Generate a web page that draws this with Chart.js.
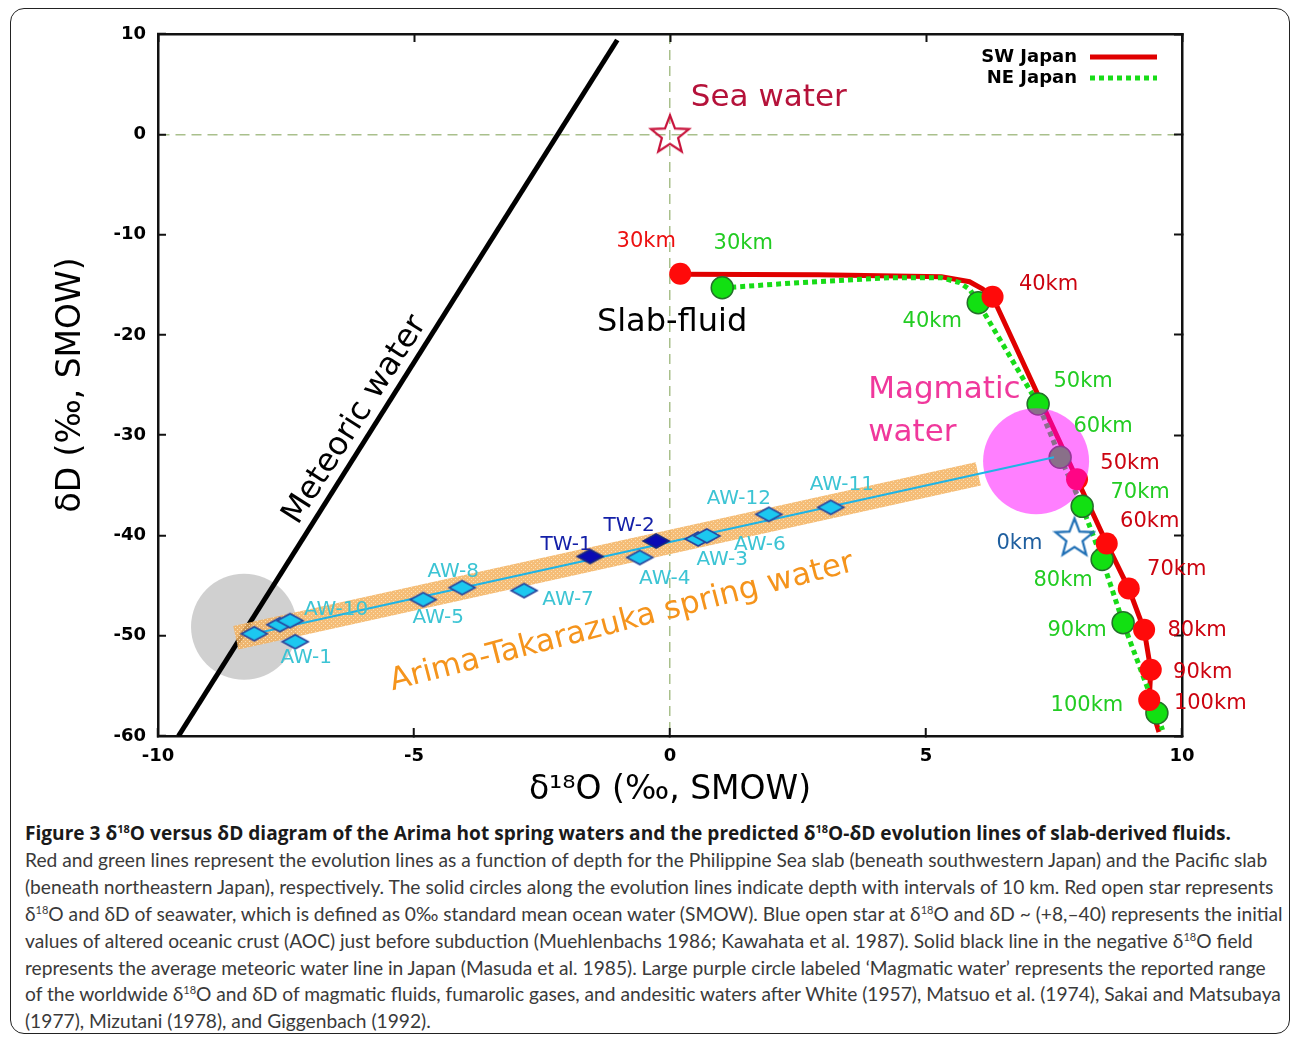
<!DOCTYPE html>
<html>
<head>
<meta charset="utf-8">
<script src="https://cdn.jsdelivr.net/npm/chart.js@4.4.1/dist/chart.umd.min.js"></script>
<style>
  body { margin: 0; background: #fff; width: 1290px; height: 1038px; overflow: hidden; position: relative; }
  #frame { position: absolute; left: 10px; top: 8px; width: 1280px; height: 1026px; border: 1.5px solid #222; border-radius: 14px; box-sizing: border-box; }
  #chart { position: absolute; left: 0; top: 0; }
  #cap { position: absolute; left: 25px; top: 820px; color: #3a3a3a; font-family: Lato, sans-serif; font-size: 19.2px; line-height: 26.9px; white-space: nowrap; }
  #cap b { color: #1a1a1a; font-family: "Open Sans", sans-serif; font-size: 19.1px; font-weight: 700; }
  #cap sup { font-size: 11px; line-height: 0; vertical-align: 7px; }
</style>
</head>
<body>
<div id="frame"></div>
<canvas id="chart" width="1290" height="815"></canvas>
<div id="cap">
  <div><b>Figure 3 δ<sup>18</sup>O versus δD diagram of the Arima hot spring waters and the predicted δ<sup>18</sup>O-δD evolution lines of slab-derived fluids.</b></div>
  <div>Red and green lines represent the evolution lines as a function of depth for the Philippine Sea slab (beneath southwestern Japan) and the Pacific slab</div>
  <div>(beneath northeastern Japan), respectively. The solid circles along the evolution lines indicate depth with intervals of 10 km. Red open star represents</div>
  <div>δ<sup>18</sup>O and δD of seawater, which is defined as 0‰ standard mean ocean water (SMOW). Blue open star at δ<sup>18</sup>O and δD ~ (+8,–40) represents the initial</div>
  <div>values of altered oceanic crust (AOC) just before subduction (Muehlenbachs 1986; Kawahata et al. 1987). Solid black line in the negative δ<sup>18</sup>O field</div>
  <div>represents the average meteoric water line in Japan (Masuda et al. 1985). Large purple circle labeled ‘Magmatic water’ represents the reported range</div>
  <div>of the worldwide δ<sup>18</sup>O and δD of magmatic fluids, fumarolic gases, and andesitic waters after White (1957), Matsuo et al. (1974), Sakai and Matsubaya</div>
  <div>(1977), Mizutani (1978), and Giggenbach (1992).</div>
</div>
<script>
// depth markers on the two slab evolution lines
const depthKm = [30, 40, 50, 60, 70, 80, 90, 100];
const swO = [0.2, 6.3, 7.95, 8.53, 8.96, 9.26, 9.39, 9.36];
const swD = [-13.9, -16.2, -34.4, -40.8, -45.3, -49.4, -53.4, -56.4];
const neO = [1.02, 6.02, 7.19, 7.62, 8.05, 8.44, 8.85, 9.51];
const neD = [-15.3, -16.8, -26.9, -32.2, -37.1, -42.4, -48.7, -57.7];

// traced paths of the evolution lines (including the bends)
const swPathO = [0.2, 2.9, 5.3, 5.85, 6.1, 6.3, 7.95, 8.53, 8.96, 9.26, 9.39, 9.36, 9.55];
const swPathD = [-13.95, -14.0, -14.2, -14.7, -15.4, -16.2, -34.4, -40.8, -45.3, -49.4, -53.4, -56.4, -59.6];
const nePathO = [1.02, 1.35, 2.5, 4.3, 5.3, 5.66, 5.86, 6.02, 7.19, 7.62, 8.05, 8.44, 8.85, 9.51, 9.62];
const nePathD = [-15.3, -15.2, -14.8, -14.3, -14.3, -14.8, -15.5, -16.8, -26.9, -32.2, -37.1, -42.4, -48.7, -57.7, -59.4];

// Arima hot spring samples
const awNames = [null, null, 'AW-10', 'AW-1', 'AW-5', 'AW-8', 'AW-7', 'AW-4', 'AW-3', 'AW-6', 'AW-12', 'AW-11'];
const awO = [-8.12, -7.62, -7.42, -7.32, -4.82, -4.06, -2.85, -0.59, 0.55, 0.72, 1.93, 3.14];
const awD = [-49.8, -48.9, -48.5, -50.6, -46.4, -45.2, -45.5, -42.2, -40.35, -40.05, -37.9, -37.2];
const twNames = ['TW-1', 'TW-2'];
const twO = [-1.56, -0.27];
const twD = [-42.1, -40.55];

// reference lines and fields
const meteoricO = [-9.6, -1.03];
const meteoricD = [-60, 9.4];
const mixO = [-8.3, 7.5];
const mixD = [-50.0, -32.2];
const bandO = [-8.48, 6.02];
const bandD = [-50.2, -33.86];
const seaWater = [0, 0];
const aocStar = [7.9, -40.2];
const magmaCentre = [7.15, -32.6];
const meteoricEnd = [-8.32, -49.1];

// free text in the plot
const notes = ['Sea water', 'Slab-fluid', 'Magmatic', 'water', 'Meteoric water', 'Arima-Takarazuka spring water'];
const noteO = [1.93, 0.04, 3.87, 3.87, -6.15, -0.94];
const noteD = [3.6, -18.8, -25.5, -29.8, -28.5, -48.7];

const xTicks = { min: -10, max: 10, step: 5 };
const yTicks = { min: -60, max: 10, step: 10 };

// label offsets in px (style only)
const swLabelOff = [[-34, -32], [56, -12], [53, -16], [43, -22], [48, -19], [53, 1], [52, 3], [61, 4]];
const neLabelOff = [[21, -44], [-46, 19], [45, -23], [43, -31], [58, -14], [-39, 21], [-46, 8], [-70, -7]];
const awLabelOff = [null, null, [46, -11], [11, 16], [15, 18], [-9, -16], [44, 9], [25, 21], [24, 21], [53, 9], [-30, -16], [11, -23]];
const twLabelOff = [[-24, -12], [-27, -15]];
const noteStyle = [
  { color: '#b5123a', font: '31px "DejaVu Sans"', align: 'center', rot: 0 },
  { color: '#000', font: '32px "DejaVu Sans"', align: 'center', rot: 0 },
  { color: '#f0389c', font: '31px "DejaVu Sans"', align: 'left', rot: 0 },
  { color: '#f0389c', font: '31px "DejaVu Sans"', align: 'left', rot: 0 },
  { color: '#000', font: '32px "DejaVu Sans"', align: 'center', rot: -57.5 },
  { color: '#f5941c', font: '31px "DejaVu Sans"', align: 'center', rot: -14.5 }
];

const pts = (xs, ys) => xs.map((v, i) => ({ x: v, y: ys[i] }));

function diamond(fill, stroke) {
  const c = document.createElement('canvas');
  c.width = 30; c.height = 18;
  const g = c.getContext('2d');
  g.beginPath();
  g.moveTo(15, 2); g.lineTo(28, 9); g.lineTo(15, 16); g.lineTo(2, 9);
  g.closePath();
  g.fillStyle = fill; g.fill();
  g.lineWidth = 1.6; g.strokeStyle = stroke; g.stroke();
  return c;
}

function openStar(color) {
  const c = document.createElement('canvas');
  c.width = 44; c.height = 44;
  const g = c.getContext('2d');
  g.beginPath();
  for (let i = 0; i < 10; i++) {
    const r = i % 2 ? 8.5 : 20;
    const a = -Math.PI / 2 + i * Math.PI / 5;
    g.lineTo(22 + r * Math.cos(a), 23 + r * Math.sin(a));
  }
  g.closePath();
  g.lineWidth = 2.2; g.strokeStyle = color; g.stroke();
  return c;
}

const ctx = document.getElementById('chart').getContext('2d');

function bandPattern() {
  const c = document.createElement('canvas');
  c.width = 4; c.height = 4;
  const g = c.getContext('2d');
  g.fillStyle = 'rgba(243,178,95,0.85)'; g.fillRect(0, 0, 4, 4);
  g.fillStyle = 'rgba(252,228,190,0.9)'; g.fillRect(1, 1, 1, 1); g.fillRect(3, 3, 1, 1);
  return ctx.createPattern(c, 'repeat');
}

const textPlugin = {
  id: 'texts',
  afterDatasetsDraw(chart) {
    const { ctx, scales: { x, y } } = chart;
    const put = (txt, px, py, font, color, align, rot) => {
      ctx.save();
      ctx.translate(px, py);
      ctx.rotate((rot || 0) * Math.PI / 180);
      ctx.font = font; ctx.fillStyle = color;
      ctx.textAlign = align || 'center'; ctx.textBaseline = 'middle';
      ctx.fillText(txt, 0, 0);
      ctx.restore();
    };
    const depthFont = '21px "DejaVu Sans"';
    depthKm.forEach((d, i) => {
      put(d + 'km', x.getPixelForValue(swO[i]) + swLabelOff[i][0], y.getPixelForValue(swD[i]) + swLabelOff[i][1],
        depthFont, i === 0 ? '#ec1010' : '#cc0410');
      put(d + 'km', x.getPixelForValue(neO[i]) + neLabelOff[i][0], y.getPixelForValue(neD[i]) + neLabelOff[i][1],
        depthFont, '#22cc22');
    });
    put('0km', x.getPixelForValue(aocStar[0]) - 55, y.getPixelForValue(aocStar[1]) + 6, depthFont, '#1f5f9f');
    const smallFont = '20px "DejaVu Sans"';
    awNames.forEach((n, i) => {
      if (!n) return;
      put(n, x.getPixelForValue(awO[i]) + awLabelOff[i][0], y.getPixelForValue(awD[i]) + awLabelOff[i][1], smallFont, '#3cc4d4');
    });
    twNames.forEach((n, i) => {
      put(n, x.getPixelForValue(twO[i]) + twLabelOff[i][0], y.getPixelForValue(twD[i]) + twLabelOff[i][1], smallFont, '#1420a8');
    });
    notes.forEach((n, i) => {
      const s = noteStyle[i];
      put(n, x.getPixelForValue(noteO[i]), y.getPixelForValue(noteD[i]), s.font, s.color, s.align, s.rot);
    });
  }
};

const legendPlugin = {
  id: 'cornerLegend',
  afterDraw(chart) {
    const { ctx, chartArea: a } = chart;
    const items = chart.data.datasets.filter(d => d.legendRank).sort((p, q) => p.legendRank - q.legendRank);
    ctx.save();
    ctx.font = 'bold 18px "DejaVu Sans"';
    ctx.textAlign = 'right'; ctx.textBaseline = 'middle';
    items.forEach((d, i) => {
      const yy = a.top + 23 + i * 21;
      ctx.fillStyle = '#000';
      ctx.fillText(d.label, a.right - 105, yy);
      ctx.beginPath();
      ctx.strokeStyle = d.borderColor; ctx.lineWidth = d.borderWidth;
      ctx.setLineDash(d.borderDash || []);
      ctx.moveTo(a.right - 92, yy); ctx.lineTo(a.right - 25, yy);
      ctx.stroke();
    });
    ctx.restore();
  }
};

const zeroGrid = c => (c.tick && c.tick.value === 0 ? '#a9c08c' : 'rgba(0,0,0,0)');
const tickFont = { family: 'DejaVu Sans', weight: 'bold', size: 18 };

new Chart(ctx, {
  type: 'scatter',
  data: {
    datasets: [
      { label: 'AW', data: pts(awO, awD), pointStyle: diamond('#1cc8f0', '#28449c'), order: 0 },
      { label: 'TW', data: pts(twO, twD), pointStyle: diamond('#0a0ab4', '#1a2a80'), order: 0 },
      { label: 'mixing', data: pts(mixO, mixD), showLine: true, borderColor: '#1fb4e6', borderWidth: 2, pointRadius: 0, order: 1 },
      { label: 'Magmatic water', data: [{ x: magmaCentre[0], y: magmaCentre[1] }], pointRadius: 53, backgroundColor: 'rgba(255,0,255,0.5)', borderWidth: 0, order: 2 },
      { label: 'Sea water', data: [{ x: seaWater[0], y: seaWater[1] }], pointStyle: openStar('#c8143c'), order: 3 },
      { label: 'AOC', data: [{ x: aocStar[0], y: aocStar[1] }], pointStyle: openStar('#1f6fb5'), order: 3 },
      { label: 'SW depths', data: pts(swO, swD), pointRadius: 11, backgroundColor: '#ff0a0a', borderWidth: 0, order: 4 },
      { label: 'NE depths', data: pts(neO, neD), pointRadius: 11, backgroundColor: '#12e012', borderColor: '#24702a', borderWidth: 1.5, order: 5 },
      { label: 'NE Japan', legendRank: 2, data: pts(nePathO, nePathD), showLine: true, borderColor: '#18dc18', borderWidth: 5, borderDash: [5, 4], pointRadius: 0, order: 6 },
      { label: 'SW Japan', legendRank: 1, data: pts(swPathO, swPathD), showLine: true, borderColor: '#e00000', borderWidth: 5, pointRadius: 0, order: 7 },
      { label: 'band', data: pts(bandO, bandD), showLine: true, borderColor: bandPattern(), borderWidth: 24, borderCapStyle: 'butt', pointRadius: 0, order: 8 },
      { label: 'Meteoric water', data: pts(meteoricO, meteoricD), showLine: true, borderColor: '#000', borderWidth: 5, pointRadius: 0, order: 9 },
      { label: 'meteoric end', data: [{ x: meteoricEnd[0], y: meteoricEnd[1] }], pointRadius: 53, backgroundColor: 'rgba(150,150,150,0.45)', borderWidth: 0, order: 10 }
    ]
  },
  options: {
    responsive: false,
    animation: false,
    events: [],
    layout: { autoPadding: false, padding: { left: 0, right: 108, top: 34, bottom: 0 } },
    plugins: { legend: { display: false }, tooltip: { enabled: false } },
    scales: {
      x: {
        type: 'linear', position: 'bottom', min: xTicks.min, max: xTicks.max,
        ticks: { stepSize: xTicks.step, padding: 18, color: '#000', font: tickFont },
        grid: { color: zeroGrid, lineWidth: 1.5, tickLength: -8, tickColor: '#111', tickWidth: 2, tickBorderDash: [] },
        border: { display: true, color: '#111', width: 2.5, dash: [10, 6] },
        title: { display: true, text: 'δ¹⁸O (‰, SMOW)', color: '#000', font: { family: 'DejaVu Sans', size: 33 }, padding: { top: 0, bottom: 5 } },
        afterFit: s => { s.height = 79; }
      },
      y: {
        type: 'linear', position: 'left', min: yTicks.min, max: yTicks.max,
        ticks: { stepSize: yTicks.step, padding: 20, color: '#000', font: tickFont },
        grid: { color: zeroGrid, lineWidth: 1.5, tickLength: -8, tickColor: '#111', tickWidth: 2, tickBorderDash: [] },
        border: { display: true, color: '#111', width: 2.5, dash: [10, 6] },
        title: { display: true, text: 'δD (‰, SMOW)', color: '#000', font: { family: 'DejaVu Sans', size: 33 }, padding: { top: 52, bottom: 0 } },
        afterFit: s => { s.width = 158; }
      },
      x2: {
        type: 'linear', position: 'top', min: xTicks.min, max: xTicks.max,
        ticks: { display: false, stepSize: xTicks.step },
        grid: { drawOnChartArea: false, tickLength: -8, tickColor: '#111', tickWidth: 2 },
        border: { display: true, color: '#111', width: 2.5 },
        afterFit: s => { s.height = 0; }
      },
      y2: {
        type: 'linear', position: 'right', min: yTicks.min, max: yTicks.max,
        ticks: { display: false, stepSize: yTicks.step },
        grid: { drawOnChartArea: false, tickLength: -8, tickColor: '#111', tickWidth: 2 },
        border: { display: true, color: '#111', width: 2.5 },
        afterFit: s => { s.width = 0; }
      }
    }
  },
  plugins: [textPlugin, legendPlugin]
});
</script>
</body>
</html>
